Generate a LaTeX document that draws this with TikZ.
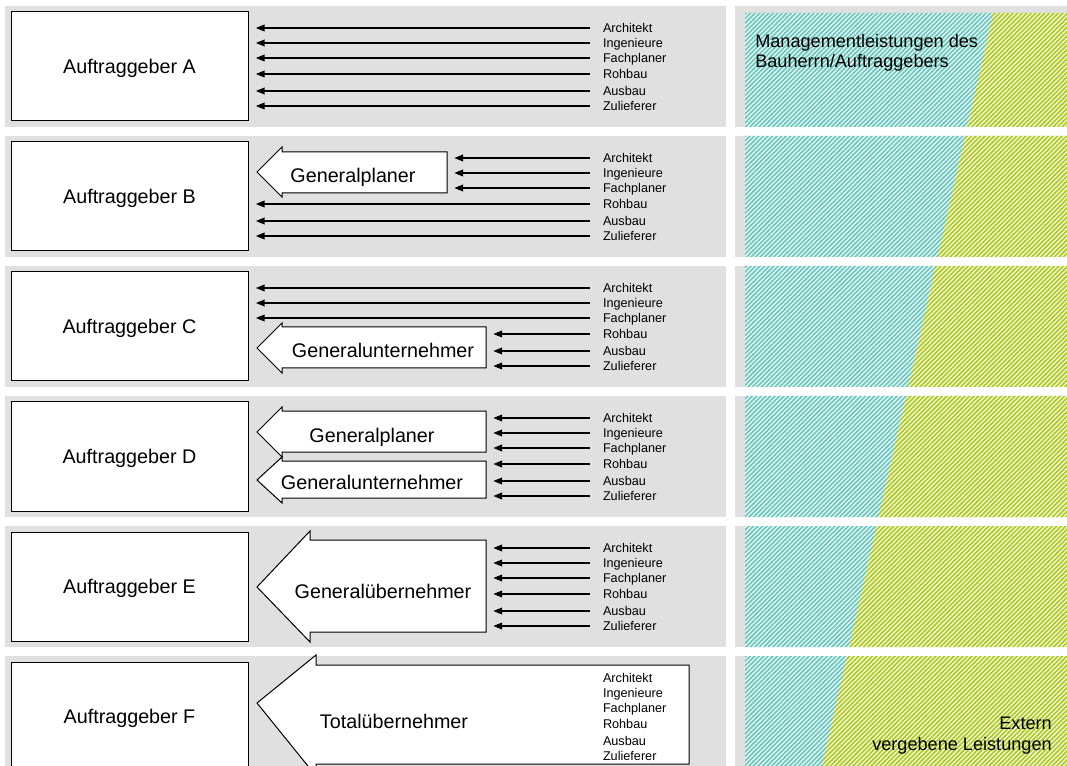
\documentclass[tikz,border=0pt]{standalone}
\usepackage{fontspec}
\setmainfont{Liberation Sans}
\usetikzlibrary{arrows.meta,patterns.meta}

\definecolor{bandgray}{RGB}{224,224,224}
\definecolor{mgmt}{RGB}{108,202,192}
\definecolor{extern}{RGB}{178,204,38}

\begin{document}
\begin{tikzpicture}[x=0.75pt, y=-0.75pt,
    band/.style = {fill=bandgray},
    client/.style = {draw, fill=white, line width=0.75pt, minimum width=177.75pt, minimum height=81.75pt, inner sep=0pt, text height=10.6pt, text depth=0pt, font=\fontsize{14.8}{17}\selectfont},
    big/.style = {draw, fill=white, line width=0.75pt},
    bigtext/.style = {inner sep=0pt, text height=10.6pt, text depth=0pt, font=\fontsize{14.8}{17}\selectfont},
    lbl/.style = {anchor=west, inner sep=0pt, outer xsep=9.75pt, text height=6.8pt, text depth=0pt, font=\fontsize{9.5}{11}\selectfont},
    note/.style = {inner sep=0pt, font=\fontsize{13.6}{15}\selectfont},
    conn/.style = {line width=0.9pt, shorten >=5.5pt, -{Triangle[length=6.5pt,width=5pt]}},
    hatch/.style = {pattern={Lines[angle=45,distance=2.4pt,line width=0.8pt]}, pattern color=white}]

    \clip (0,0) rectangle (1067,766);

    % grey bands
    \foreach \yy in {6,136,266,396,526,656} {
        \fill[band] (5,\yy) rectangle (726,\yy+121);
        \fill[band] (735,\yy) rectangle (1067,\yy+121);
    }

    % share of services, right column
    \begin{scope}
        \clip (745,13) rectangle (1067,127) (745,136) rectangle (1067,257)
              (745,266) rectangle (1067,387) (745,396) rectangle (1067,517)
              (745,526) rectangle (1067,647) (745,656) rectangle (1067,777);
        \fill[mgmt] (745,0) -- (996,0) -- (818,783) -- (745,783) -- cycle;
        \fill[extern] (996,0) -- (1067,0) -- (1067,783) -- (818,783) -- cycle;
        \fill[hatch] (745,0) rectangle (1067,783);
    \end{scope}

    \node[note, anchor=base west] (m1) at (755,48) {Managementleistungen des};
    \node[note, anchor=base west] (m2) at (755,68) {Bauherrn/Auftraggebers};
    \node[note, anchor=base east] (x1) at (1052,729) {Extern};
    \node[note, anchor=base east] (x2) at (1052,750) {vergebene Leistungen};

    % clients and trades
    \foreach \row/\yy in {A/6, B/136, C/266, D/396, E/526, F/656} {
        \node[client] (\row) at (129.5,\yy+60.5) {Auftraggeber \row};
        \foreach \nr/\dy/\wrd in {1/22/Architekt, 2/37/Ingenieure, 3/52/Fachplaner, 4/68/Rohbau, 5/85/Ausbau, 6/100/Zulieferer}
            \node[lbl] (\row\nr) at (590,\yy+\dy) {\wrd};
    }

    % big arrows
    \draw[big] (282,152) -- (447,152) -- (447,193) -- (282,193) -- (282,197) -- (257,172) -- (282,147) -- cycle;
    \node[bigtext] (gp1) at (353,175) {Generalplaner};
    \coordinate (gp1e) at (447,172);

    \draw[big] (282,327) -- (486,327) -- (486,368) -- (282,368) -- (282,373) -- (257,348) -- (282,323) -- cycle;
    \node[bigtext] (gu1) at (383,350) {Generalunternehmer};
    \coordinate (gu1e) at (486,348);

    \draw[big] (282,411) -- (486,411) -- (486,452) -- (282,452) -- (282,457) -- (257,432) -- (282,407) -- cycle;
    \node[bigtext] (gp2) at (372,435) {Generalplaner};
    \coordinate (gp2e) at (486,432);

    \draw[big] (282,461) -- (486,461) -- (486,498) -- (282,498) -- (282,503) -- (257,480) -- (282,457) -- cycle;
    \node[bigtext] (gu2) at (372,482) {Generalunternehmer};
    \coordinate (gu2e) at (486,480);

    \draw[big] (310,540) -- (486,540) -- (486,632) -- (310,632) -- (310,642) -- (257,587) -- (310,531) -- cycle;
    \node[bigtext] (gue) at (383,591) {Generalübernehmer};
    \coordinate (guee) at (486,587);

    \draw[big] (316,665) -- (689,665) -- (689,764) -- (316,764) -- (316,776) -- (257,703) -- (316,655) -- cycle;
    \node[bigtext] (tue) at (394,721) {Totalübernehmer};
    \foreach \nr/\dy/\wrd in {1/22/Architekt, 2/37/Ingenieure, 3/52/Fachplaner, 4/68/Rohbau, 5/85/Ausbau, 6/100/Zulieferer}
        \node[lbl, fill=white] (T\nr) at (590,656+\dy) {\wrd};

    % connectors
    \foreach \nr in {1,...,6} \draw[conn] (A\nr.west) -- (A.east |- A\nr.west);
    \foreach \nr in {1,2,3} \draw[conn] (B\nr.west) -- (gp1e |- B\nr.west);
    \foreach \nr in {4,5,6} \draw[conn] (B\nr.west) -- (B.east |- B\nr.west);
    \foreach \nr in {1,2,3} \draw[conn] (C\nr.west) -- (C.east |- C\nr.west);
    \foreach \nr in {4,5,6} \draw[conn] (C\nr.west) -- (gu1e |- C\nr.west);
    \foreach \nr in {1,2,3} \draw[conn] (D\nr.west) -- (gp2e |- D\nr.west);
    \foreach \nr in {4,5,6} \draw[conn] (D\nr.west) -- (gu2e |- D\nr.west);
    \foreach \nr in {1,...,6} \draw[conn] (E\nr.west) -- (guee |- E\nr.west);

\end{tikzpicture}
\end{document}
